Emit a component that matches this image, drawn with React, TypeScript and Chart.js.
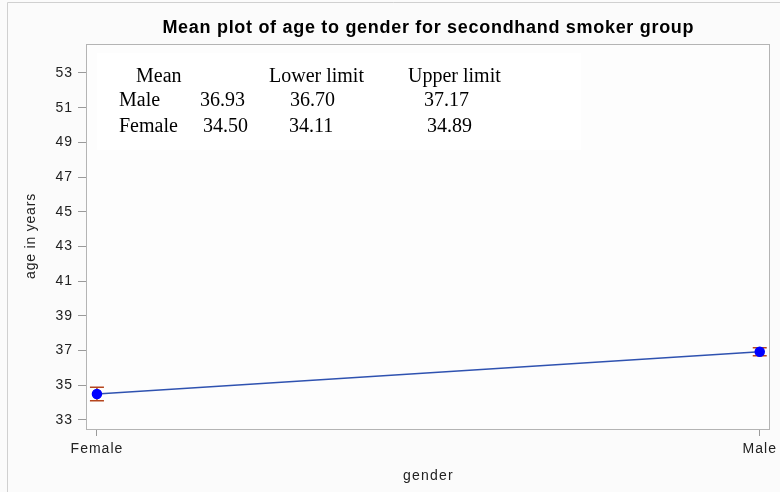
import React, { useEffect, useRef } from "react";
import { Chart, registerables } from "chart.js";

Chart.register(...registerables);

const chartTitle = "Mean plot of age to gender for secondhand smoker group";
const xAxisTitle = "gender";
const yAxisTitle = "age in years";
const categories = ["Female", "Male"];
const means = [34.5, 36.93];
const lowerLimits = [34.11, 36.7];
const upperLimits = [34.89, 37.17];
const yTickValues = [33, 35, 37, 39, 41, 43, 45, 47, 49, 51, 53];
const tableHeader = ["Mean", "Lower limit", "Upper limit"];
const tableRowLabels = ["Male", "Female"];
const tableMeans = ["36.93", "34.50"];
const tableLower = ["36.70", "34.11"];
const tableUpper = ["37.17", "34.89"];

const SANS = "'Liberation Sans', Arial, sans-serif";
const SERIF = "'Liberation Serif', 'Times New Roman', serif";

const decorPlugin = {
  id: "decor",
  beforeDraw(chart: any) {
    const { ctx, chartArea, width, height } = chart;
    ctx.save();
    ctx.fillStyle = "#fbfbfb";
    ctx.fillRect(0, 0, width, height);
    ctx.strokeStyle = "#d0d0d0";
    ctx.lineWidth = 1;
    ctx.beginPath();
    ctx.moveTo(7.5, height);
    ctx.lineTo(7.5, 2.5);
    ctx.lineTo(width, 2.5);
    ctx.stroke();
    ctx.fillStyle = "#fdfdfd";
    ctx.fillRect(chartArea.left, chartArea.top, chartArea.right - chartArea.left, chartArea.bottom - chartArea.top);
    ctx.fillStyle = "#ffffff";
    ctx.fillRect(chartArea.left + 10, chartArea.top + 9, 484, 97);
    ctx.restore();
    (ctx as any).letterSpacing = "1px";
  },
  afterDraw(chart: any) {
    const { ctx, chartArea } = chart;
    const L = chartArea.left;
    const T = chartArea.top;
    ctx.save();
    ctx.strokeStyle = "#b4b4b4";
    ctx.lineWidth = 1;
    ctx.strokeRect(
      Math.round(L) - 0.5,
      Math.round(T) + 0.5,
      Math.round(chartArea.right - L),
      Math.round(chartArea.bottom - T)
    );
    // title
    ctx.fillStyle = "#000";
    (ctx as any).letterSpacing = "0.7px";
    ctx.font = `bold 18px ${SANS}`;
    ctx.textAlign = "center";
    ctx.textBaseline = "alphabetic";
    ctx.fillText(chartTitle, (L + chartArea.right) / 2, 33);
    // axis titles
    (ctx as any).letterSpacing = "1.2px";
    ctx.font = `14px ${SANS}`;
    ctx.fillStyle = "#222";
    ctx.fillText(xAxisTitle, (L + chartArea.right) / 2, 480);
    ctx.save();
    ctx.translate(35, 236);
    ctx.rotate(-Math.PI / 2);
    (ctx as any).letterSpacing = "0.8px";
    ctx.fillText(yAxisTitle, 0, 0);
    ctx.restore();
    // table
    (ctx as any).letterSpacing = "0px";
    ctx.fillStyle = "#000";
    ctx.font = `20px ${SERIF}`;
    ctx.textAlign = "left";
    const headerX = [49, 182, 321];
    tableHeader.forEach((h, i) => ctx.fillText(h, L + headerX[i], T + 38));
    const rowY = [62, 88];
    const meanX = [113, 116];
    const lowX = [203, 202];
    const upX = [337, 340];
    tableRowLabels.forEach((r, i) => {
      ctx.fillText(r, L + 32, T + rowY[i]);
      ctx.fillText(tableMeans[i], L + meanX[i], T + rowY[i]);
      ctx.fillText(tableLower[i], L + lowX[i], T + rowY[i]);
      ctx.fillText(tableUpper[i], L + upX[i], T + rowY[i]);
    });
    ctx.restore();
  },
  beforeDatasetsDraw(chart: any) {
    const { ctx, scales } = chart;
    const xs = scales.x;
    const ys = scales.y;
    ctx.save();
    ctx.strokeStyle = "#b5461e";
    ctx.lineWidth = 1.5;
    categories.forEach((_, i) => {
      const x = xs.getPixelForValue(i);
      const yl = ys.getPixelForValue(lowerLimits[i]);
      const yu = ys.getPixelForValue(upperLimits[i]);
      ctx.beginPath();
      ctx.moveTo(x, yl);
      ctx.lineTo(x, yu);
      ctx.moveTo(x - 7, yl);
      ctx.lineTo(x + 7, yl);
      ctx.moveTo(x - 7, yu);
      ctx.lineTo(x + 7, yu);
      ctx.stroke();
    });
    ctx.restore();
  },
};

export default function App() {
  const ref = useRef<HTMLCanvasElement>(null);
  useEffect(() => {
    document.body.style.margin = "0";
    const canvas = ref.current!;
    const chart = new Chart(canvas, {
      type: "line",
      data: {
        datasets: [
          {
            label: "Mean",
            data: means.map((m, i) => ({ x: i, y: m })),
            borderColor: "#2f52b0",
            borderWidth: 1.5,
            pointBackgroundColor: "#0000ff",
            pointBorderColor: "#0000ff",
            pointRadius: 4.5,
            fill: false,
            tension: 0,
          },
        ],
      },
      options: {
        responsive: false,
        animation: false,
        layout: { padding: { left: 0, top: 44, right: 5, bottom: 0 } },
        plugins: { legend: { display: false }, tooltip: { enabled: false }, title: { display: false } },
        scales: {
          x: {
            type: "linear",
            min: -0.015,
            max: 1.015,
            afterBuildTicks: (s: any) => {
              s.ticks = categories.map((_, i) => ({ value: i }));
            },
            afterFit: (s: any) => {
              s.height = 63;
            },
            ticks: {
              callback: (v: any) => categories[v as number] ?? "",
              font: { family: SANS, size: 14 },
              color: "#222",
              padding: 5,
              maxRotation: 0,
              autoSkip: false,
            },
            grid: { drawOnChartArea: false, tickLength: 7, color: "#9a9a9a" },
            border: { display: false },
          },
          y: {
            type: "linear",
            min: 32.48,
            max: 54.67,
            afterBuildTicks: (s: any) => {
              s.ticks = yTickValues.map((v) => ({ value: v }));
            },
            afterFit: (s: any) => {
              s.width = 87;
            },
            ticks: {
              font: { family: SANS, size: 14 },
              color: "#222",
              padding: 5,
            },
            grid: { drawOnChartArea: false, tickLength: 9, color: "#9a9a9a" },
            border: { display: false },
          },
        },
      },
      plugins: [decorPlugin],
    } as any);
    return () => chart.destroy();
  }, []);
  return <canvas ref={ref} width={780} height={492} style={{ display: "block" }} />;
}
